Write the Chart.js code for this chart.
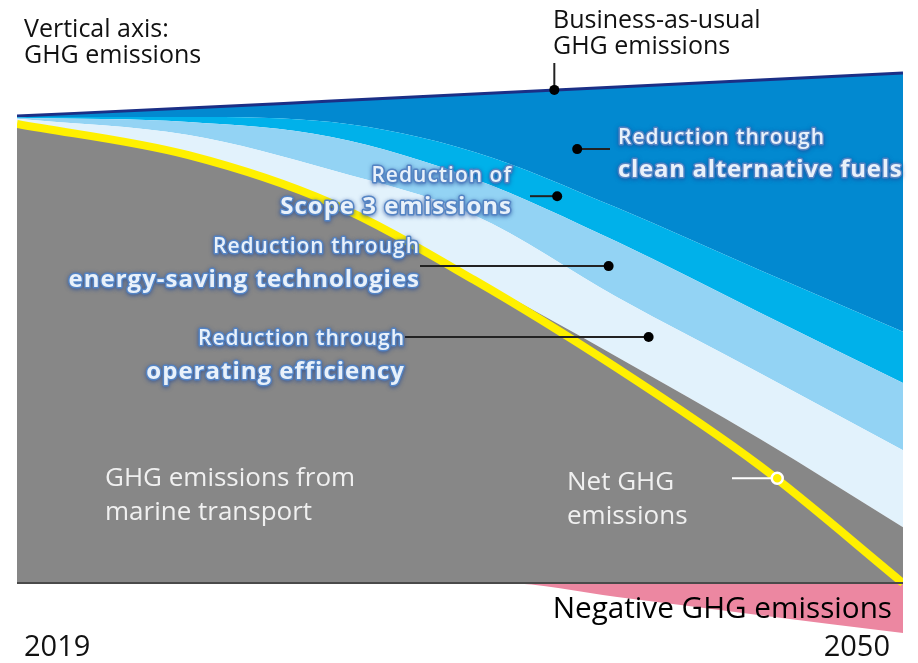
<!DOCTYPE html>
<html>
<head>
<meta charset="utf-8">
<script src="https://cdn.jsdelivr.net/npm/chart.js@4.4.1/dist/chart.umd.min.js"></script>
<style>
  body { margin: 0; background: #fff; }
  canvas { display: block; }
</style>
</head>
<body>
<canvas id="ghgChart" width="918" height="663"></canvas>
<script>
// Values, 2019 level ~ 100
const years = [2019, 2025, 2030, 2035, 2040, 2045, 2050];
const marineEmissions = [98.5, 91.8, 81.5, 65.5, 48.5, 30.9, 12.0];
const operatingEfficiency = [1.1, 4.3, 7.1, 13.4, 12.8, 14.1, 16.5];
const energySaving = [0.2, 2.8, 7.1, 7.8, 11.9, 13.0, 14.4];
const scope3Reduction = [0.2, 1.1, 3.2, 5.8, 7.3, 9.1, 11.0];
const cleanFuels = [0.2, 1.9, 4.5, 12.4, 25.9, 40.8, 55.5];
const netEmissions = [98.5, 91.8, 81.5, 65.0, 46.1, 25.1, 0];
const negativeYears = [2019, 2036, 2040, 2045, 2050];
const negativeEmissions = [0, 0, -3.0, -6.9, -10.7];

const pts = (xs, ys) => xs.map((x, i) => ({ x: x, y: ys[i] }));
const none = 'rgba(0,0,0,0)';

function area(label, values, color, fill) {
  return {
    label: label,
    data: pts(years, values),
    stack: 'bau',
    backgroundColor: color,
    borderColor: none,
    borderWidth: 0,
    fill: fill,
    order: 1
  };
}

// blue outlined labels like the original
function glowText(ctx, text, x, y, size, weight, align, spacing) {
  ctx.save();
  ctx.font = weight + ' ' + size + 'px "Open Sans"';
  ctx.letterSpacing = (spacing || 1) + 'px';
  ctx.textAlign = align;
  ctx.textBaseline = 'middle';
  ctx.lineJoin = 'round';
  ctx.shadowColor = 'rgba(30,70,150,0.75)';
  ctx.shadowBlur = 4;
  ctx.shadowOffsetY = 1;
  ctx.strokeStyle = '#5484c4';
  ctx.lineWidth = 3;
  ctx.strokeText(text, x, y);
  ctx.shadowColor = 'rgba(0,0,0,0)';
  ctx.fillStyle = '#e9f1fa';
  ctx.fillText(text, x, y);
  ctx.restore();
}

function plainText(ctx, text, x, y, size, color, align) {
  ctx.save();
  ctx.font = size + 'px "Open Sans"';
  ctx.textAlign = align || 'left';
  ctx.textBaseline = 'middle';
  ctx.fillStyle = color;
  ctx.fillText(text, x, y);
  ctx.restore();
}

function dot(ctx, x, y) {
  ctx.beginPath();
  ctx.arc(x, y, 5, 0, Math.PI * 2);
  ctx.fillStyle = '#000';
  ctx.fill();
}

function leader(ctx, x1, y1, x2, y2, color) {
  ctx.beginPath();
  ctx.moveTo(x1, y1);
  ctx.lineTo(x2, y2);
  ctx.strokeStyle = color || '#222';
  ctx.lineWidth = 2;
  ctx.stroke();
}

const labelPlugin = {
  id: 'labels',
  afterDatasetsDraw(chart) {
    const ctx = chart.ctx;
    const xs = chart.scales.x, ys = chart.scales.y;
    const px = v => xs.getPixelForValue(v);
    const py = v => ys.getPixelForValue(v);

    ctx.save();
    // baseline
    leader(ctx, chart.chartArea.left, py(0), chart.chartArea.right, py(0), '#4a4a4a');

    // business as usual
    plainText(ctx, 'Business-as-usual', 553, 21, 25, '#111');
    plainText(ctx, 'GHG emissions', 553, 47, 25, '#111');
    leader(ctx, px(2037.8), 63, px(2037.8), py(105.8));
    dot(ctx, px(2037.8), py(105.8));

    // clean fuels
    leader(ctx, px(2038.6), py(93.1), 610, py(93.1));
    dot(ctx, px(2038.6), py(93.1));
    glowText(ctx, 'Reduction through', 618, 138, 21, '600', 'left');
    glowText(ctx, 'clean alternative fuels', 618, 170, 24, '700', 'left', 0.7);

    // scope 3
    leader(ctx, 530, py(83.0), px(2037.9), py(83.0));
    dot(ctx, px(2037.9), py(83.0));
    glowText(ctx, 'Reduction of', 512, 176, 21, '600', 'right');
    glowText(ctx, 'Scope 3 emissions', 512, 207, 24, '700', 'right');

    // energy saving
    leader(ctx, 420, py(68.0), px(2039.7), py(68.0));
    dot(ctx, px(2039.7), py(68.0));
    glowText(ctx, 'Reduction through', 420, 247, 21, '600', 'right');
    glowText(ctx, 'energy-saving technologies', 420, 280, 24, '700', 'right');

    // operating efficiency
    leader(ctx, 405, py(52.8), px(2041.1), py(52.8));
    dot(ctx, px(2041.1), py(52.8));
    glowText(ctx, 'Reduction through', 405, 339, 21, '600', 'right');
    glowText(ctx, 'operating efficiency', 405, 372, 24, '700', 'right');

    // marine transport
    plainText(ctx, 'GHG emissions from', 105, 479, 26, '#f0f0f0');
    plainText(ctx, 'marine transport', 105, 513, 26, '#f0f0f0');

    // net emissions
    plainText(ctx, 'Net GHG', 567, 483, 26, '#f0f0f0');
    plainText(ctx, 'emissions', 567, 517, 26, '#f0f0f0');
    leader(ctx, 732, py(22.5), px(2045.6), py(22.5), '#fff');
    ctx.beginPath();
    ctx.arc(px(2045.6), py(22.5), 5.5, 0, Math.PI * 2);
    ctx.fillStyle = '#fff000';
    ctx.fill();
    ctx.lineWidth = 2.5;
    ctx.strokeStyle = '#fff';
    ctx.stroke();

    // negative
    plainText(ctx, 'Negative GHG emissions', 892, 610, 29.7, '#000', 'right');

    // axes words
    plainText(ctx, 'Vertical axis:', 24, 30, 25, '#111');
    plainText(ctx, 'GHG emissions', 24, 56, 25, '#111');
    plainText(ctx, '2019', 24, 648, 29, '#111');
    plainText(ctx, '2050', 890, 648, 29, '#111', 'right');
    ctx.restore();
  }
};

new Chart(document.getElementById('ghgChart'), {
  type: 'line',
  data: {
    datasets: [
      {
        label: 'Net GHG emissions',
        data: pts(years, netEmissions),
        stack: 'net',
        borderColor: '#fff000',
        borderWidth: 8,
        fill: false,
        order: 0
      },
      area('GHG emissions from marine transport', marineEmissions, '#878787', 'origin'),
      area('Reduction through operating efficiency', operatingEfficiency, '#e2f2fc', '-1'),
      area('Reduction through energy-saving technologies', energySaving, '#93d3f4', '-1'),
      area('Reduction of Scope 3 emissions', scope3Reduction, '#00b1ea', '-1'),
      Object.assign(area('Reduction through clean alternative fuels', cleanFuels, '#0289d0', '-1'), {
        borderColor: '#1b2f86',
        borderWidth: 3
      }),
      {
        label: 'Negative GHG emissions',
        data: pts(negativeYears, negativeEmissions),
        stack: 'neg',
        backgroundColor: '#ec87a1',
        borderColor: none,
        borderWidth: 0,
        fill: 'origin',
        order: 2
      }
    ]
  },
  options: {
    responsive: false,
    animation: false,
    layout: { padding: { left: 17, right: 15, top: 61, bottom: 24 } },
    elements: {
      point: { radius: 0 },
      line: { cubicInterpolationMode: 'monotone' }
    },
    scales: {
      x: { type: 'linear', min: 2019, max: 2050, display: false },
      y: { min: -12, max: 112, stacked: true, display: false }
    },
    plugins: {
      legend: { display: false },
      tooltip: { enabled: false }
    }
  },
  plugins: [labelPlugin]
});
</script>
</body>
</html>
